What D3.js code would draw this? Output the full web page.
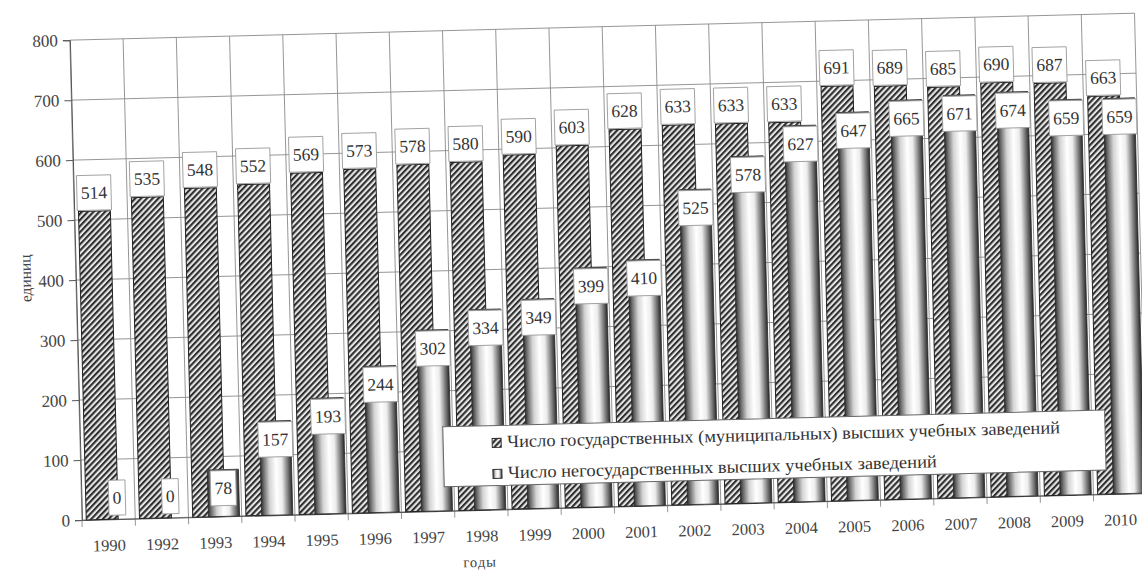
<!DOCTYPE html>
<html>
<head>
<meta charset="utf-8">
<script src="https://cdn.jsdelivr.net/npm/d3@7"></script>
<style>
  html, body { margin: 0; padding: 0; background: #fff; }
  svg { display: block; }
  svg text { font-family: "Liberation Serif", "DejaVu Serif", serif; }
</style>
</head>
<body>
<div id="chart"></div>
<script>
"use strict";

// Categories (1991 is absent in the source).
var years = ["1990", "1992", "1993", "1994", "1995", "1996", "1997", "1998", "1999", "2000",
             "2001", "2002", "2003", "2004", "2005", "2006", "2007", "2008", "2009", "2010"];
// Number of state (municipal) higher education institutions.
var stateCount = [514, 535, 548, 552, 569, 573, 578, 580, 590, 603,
                  628, 633, 633, 633, 691, 689, 685, 690, 687, 663];
// Number of non-state higher education institutions.
var privateCount = [0, 0, 78, 157, 193, 244, 302, 334, 349, 399,
                    410, 525, 578, 627, 647, 665, 671, 674, 659, 659];
var yTicks = [0, 100, 200, 300, 400, 500, 600, 700, 800];
var seriesNames = ["Число государственных (муниципальных) высших учебных заведений",
                   "Число негосударственных высших учебных заведений"];

var width = 1142, height = 572;
var margin = {top: 40, left: 82};
var plotW = 1065, plotH = 480;
var serif = "'Liberation Serif', 'DejaVu Serif', serif";

var svg = d3.select("#chart").append("svg")
    .attr("width", width).attr("height", height);

// Patterns and gradients.
var defs = svg.append("defs");
var hatch = defs.append("pattern")
    .attr("id", "hatch")
    .attr("patternUnits", "userSpaceOnUse")
    .attr("width", 4.2).attr("height", 4.2)
    .attr("patternTransform", "rotate(45)");
hatch.append("rect").attr("width", 4.2).attr("height", 4.2).attr("fill", "#e6e6e6");
hatch.append("rect").attr("width", 2.1).attr("height", 4.2).attr("fill", "#2e2e2e");

var cyl = defs.append("linearGradient")
    .attr("id", "cyl").attr("x1", "0%").attr("x2", "100%").attr("y1", "0%").attr("y2", "0%");
[[0, "#2f2f2f"], [0.1, "#707070"], [0.28, "#d4d4d4"], [0.5, "#ffffff"],
 [0.68, "#ececec"], [0.86, "#808080"], [1, "#2a2a2a"]].forEach(function (s) {
    cyl.append("stop").attr("offset", s[0]).attr("stop-color", s[1]);
});

// The scanned chart is tilted slightly; draw it straight then rotate the whole layer.
var chart = svg.append("g")
    .attr("transform", "rotate(-1.45," + margin.left + "," + (margin.top + plotH) + ")");
var plot = chart.append("g")
    .attr("transform", "translate(" + margin.left + "," + margin.top + ")");

var x = d3.scaleBand().domain(years).range([0, plotW]).padding(0);
var y = d3.scaleLinear().domain([0, 800]).range([plotH, 0]);
var bw = x.bandwidth();

// Grid lines.
plot.append("g").selectAll("line")
    .data(yTicks)
    .enter().append("line")
    .attr("x1", 0).attr("x2", plotW)
    .attr("y1", function (d) { return y(d); })
    .attr("y2", function (d) { return y(d); })
    .attr("stroke", "#8c8c8c").attr("stroke-width", 0.9);

var bounds = years.map(function (d) { return x(d); }).concat([plotW]);
plot.append("g").selectAll("line")
    .data(bounds)
    .enter().append("line")
    .attr("x1", function (d) { return d; }).attr("x2", function (d) { return d; })
    .attr("y1", 0).attr("y2", plotH + 7)
    .attr("stroke", "#8c8c8c").attr("stroke-width", 0.9);

// Axes.
var yAxis = plot.append("g")
    .call(d3.axisLeft(y).tickValues(yTicks).tickSize(7).tickPadding(5).tickFormat(d3.format("d")));
yAxis.attr("font-family", null);
yAxis.select(".domain").attr("stroke", "#555");
yAxis.selectAll(".tick line").attr("stroke", "#555");
yAxis.selectAll("text")
    .style("font-family", serif)
    .attr("font-size", 17).attr("fill", "#444");

var xAxis = plot.append("g")
    .attr("transform", "translate(0," + plotH + ")")
    .call(d3.axisBottom(x).tickSize(0).tickPadding(20));
xAxis.attr("font-family", null);
xAxis.select(".domain").attr("stroke", "#555");
xAxis.selectAll("text")
    .style("font-family", serif)
    .attr("font-size", 16.5).attr("fill", "#444");

// Bars.
var cat = plot.append("g").selectAll("g")
    .data(years.map(function (d, i) { return {year: d, s: stateCount[i], p: privateCount[i]}; }))
    .enter().append("g");

var hx0 = 0.08 * bw, hw = 0.6 * bw;
var cx0 = 0.375 * bw, cw = 0.585 * bw;

cat.append("rect")
    .attr("x", function (d) { return x(d.year) + hx0; })
    .attr("y", function (d) { return y(d.s); })
    .attr("width", hw)
    .attr("height", function (d) { return y(0) - y(d.s); })
    .attr("fill", "url(#hatch)")
    .attr("stroke", "#222").attr("stroke-width", 1);

cat.filter(function (d) { return d.p > 0; }).append("rect")
    .attr("x", function (d) { return x(d.year) + cx0; })
    .attr("y", function (d) { return y(d.p); })
    .attr("width", cw)
    .attr("height", function (d) { return y(0) - y(d.p); })
    .attr("fill", "url(#cyl)")
    .attr("stroke", "#2a2a2a").attr("stroke-width", 0.8);

cat.filter(function (d) { return d.p > 0; }).append("rect")
    .attr("x", function (d) { return x(d.year) + cx0; })
    .attr("y", function (d) { return y(d.p); })
    .attr("width", cw)
    .attr("height", 3)
    .attr("fill", "#4a4a4a");

// Data labels in white boxes.
var boxH = 35;
function addLabel(g, value, cxMid, top) {
    var lab = g.append("g");
    var rect = lab.append("rect");
    var t = lab.append("text")
        .attr("x", cxMid).attr("y", top + boxH / 2 + 6)
        .attr("text-anchor", "middle")
        .style("font-family", serif)
        .attr("font-size", 17.5).attr("fill", "#333")
        .text(value);
    var tw = t.node().getComputedTextLength() + 8;
    rect.attr("x", cxMid - tw / 2).attr("y", top)
        .attr("width", tw).attr("height", boxH)
        .attr("fill", "#fff").attr("stroke", "#999").attr("stroke-width", 0.9);
}
var labels = plot.append("g");
cat.each(function (d) {
    addLabel(labels, d.s, x(d.year) + hx0 + hw / 2, y(d.s) - boxH - 1);
    addLabel(labels, d.p, x(d.year) + cx0 + cw / 2, Math.min(y(d.p) + 1, y(0) - boxH - 4));
});

// Axis titles.
chart.append("text")
    .attr("transform", "translate(37,277) rotate(-90)")
    .attr("text-anchor", "middle")
    .style("font-family", serif)
    .attr("font-size", 15.5).attr("fill", "#444")
    .text("единиц");
chart.append("text")
    .attr("x", 479).attr("y", 577)
    .attr("text-anchor", "middle")
    .style("font-family", serif)
    .attr("font-size", 14.5).attr("letter-spacing", 1).attr("fill", "#444")
    .text("годы");

// Legend.
var legend = chart.append("g").attr("transform", "translate(445,436)");
legend.append("rect")
    .attr("width", 662).attr("height", 60)
    .attr("fill", "#fff").attr("stroke", "#666").attr("stroke-width", 1);
var lengths = [553, 429];
var swatchFill = ["url(#hatch)", "url(#cyl)"];
seriesNames.forEach(function (name, i) {
    var row = legend.append("g").attr("transform", "translate(0," + (i * 31) + ")");
    row.append("rect")
        .attr("x", 49).attr("y", 13).attr("width", 9).attr("height", 9)
        .attr("fill", swatchFill[i]).attr("stroke", "#333").attr("stroke-width", 1);
    row.append("text")
        .attr("x", 64).attr("y", 22)
        .style("font-family", serif)
        .attr("font-size", 17.5).attr("fill", "#333")
        .attr("textLength", lengths[i]).attr("lengthAdjust", "spacingAndGlyphs")
        .text(name);
});
</script>
</body>
</html>
